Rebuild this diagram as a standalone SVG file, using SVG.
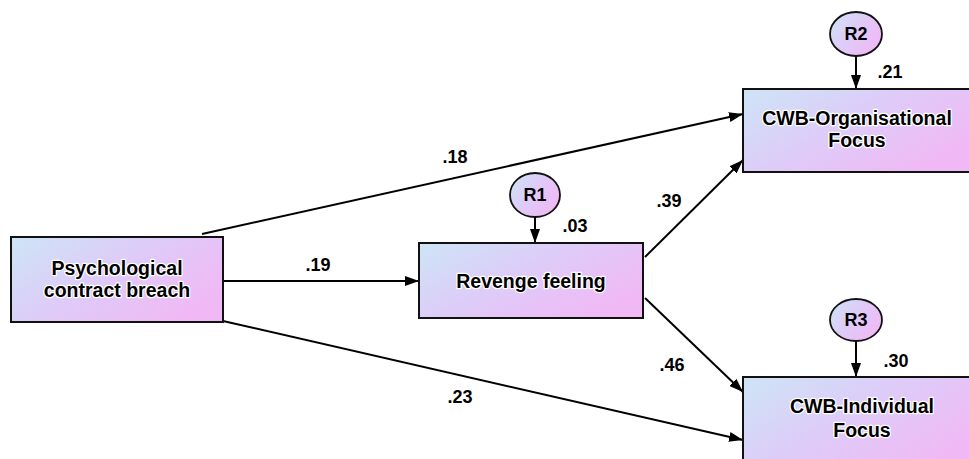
<svg xmlns="http://www.w3.org/2000/svg" width="969" height="459" viewBox="0 0 969 459">
<defs>
<linearGradient id="g" x1="0" y1="0" x2="1" y2="0.6">
<stop offset="0" stop-color="#cde5f6"/>
<stop offset="0.5" stop-color="#ddccf8"/>
<stop offset="1" stop-color="#f0b9f5"/>
</linearGradient>
<marker id="ah" viewBox="0 0 14 10" refX="14" refY="5" markerWidth="14" markerHeight="10" markerUnits="userSpaceOnUse" orient="auto">
<path d="M0,0 L14,5 L0,10 Z" fill="#000"/>
</marker>
<style>
.box{fill:url(#g);stroke:#111;stroke-width:2}
.err{fill:url(#g);stroke:#111;stroke-width:1.8}
.t{font-family:"Liberation Sans",Arial,sans-serif;font-weight:bold;font-size:19.5px;fill:#000;text-anchor:middle;stroke:#fff;stroke-width:2.5;paint-order:stroke;stroke-linejoin:round}
.r{font-family:"Liberation Sans",Arial,sans-serif;font-weight:bold;font-size:18px;fill:#000;text-anchor:middle}
.n{font-family:"Liberation Sans",Arial,sans-serif;font-weight:bold;font-size:18px;fill:#000;text-anchor:middle}
.c{stroke:#000;stroke-width:2;fill:none;marker-end:url(#ah)}
</style>
</defs>
<g id="connectors">
<line class="c" x1="202" y1="234" x2="743" y2="114"/>
<line class="c" x1="223" y1="281" x2="419" y2="281"/>
<line class="c" x1="223" y1="321" x2="743" y2="440"/>
<line class="c" x1="645" y1="257" x2="743" y2="160"/>
<line class="c" x1="645" y1="298" x2="743" y2="392"/>
<line class="c" x1="535" y1="217" x2="535" y2="243"/>
<line class="c" x1="856" y1="56" x2="856" y2="89"/>
<line class="c" x1="856" y1="341" x2="856" y2="377"/>
<text class="n" x="455" y="163">.18</text>
<text class="n" x="318" y="271">.19</text>
<text class="n" x="460" y="403">.23</text>
<text class="n" x="669" y="207">.39</text>
<text class="n" x="672" y="371">.46</text>
<text class="n" x="575" y="232">.03</text>
<text class="n" x="890" y="78">.21</text>
<text class="n" x="896" y="367">.30</text>
</g>
<g id="pcb">
<rect class="box" x="11" y="237" width="212" height="85"/>
<text class="t" x="117" y="275">Psychological</text>
<text class="t" x="117" y="297">contract breach</text>
</g>
<g id="revenge">
<rect class="box" x="419" y="243" width="224" height="75"/>
<text class="t" x="531" y="288">Revenge feeling</text>
</g>
<g id="cwbo">
<rect class="box" x="743" y="89" width="228" height="83"/>
<text class="t" x="857" y="125">CWB-Organisational</text>
<text class="t" x="857" y="147">Focus</text>
</g>
<g id="cwbi">
<rect class="box" x="743" y="377" width="240" height="90"/>
<text class="t" x="862" y="413">CWB-Individual</text>
<text class="t" x="862" y="437">Focus</text>
</g>
<g id="r1">
<ellipse class="err" cx="535" cy="195" rx="25" ry="22"/>
<text class="r" x="535" y="201">R1</text>
</g>
<g id="r2">
<ellipse class="err" cx="856" cy="34" rx="26" ry="22"/>
<text class="r" x="856" y="40">R2</text>
</g>
<g id="r3">
<ellipse class="err" cx="856" cy="320" rx="26" ry="21"/>
<text class="r" x="856" y="326">R3</text>
</g>
</svg>
